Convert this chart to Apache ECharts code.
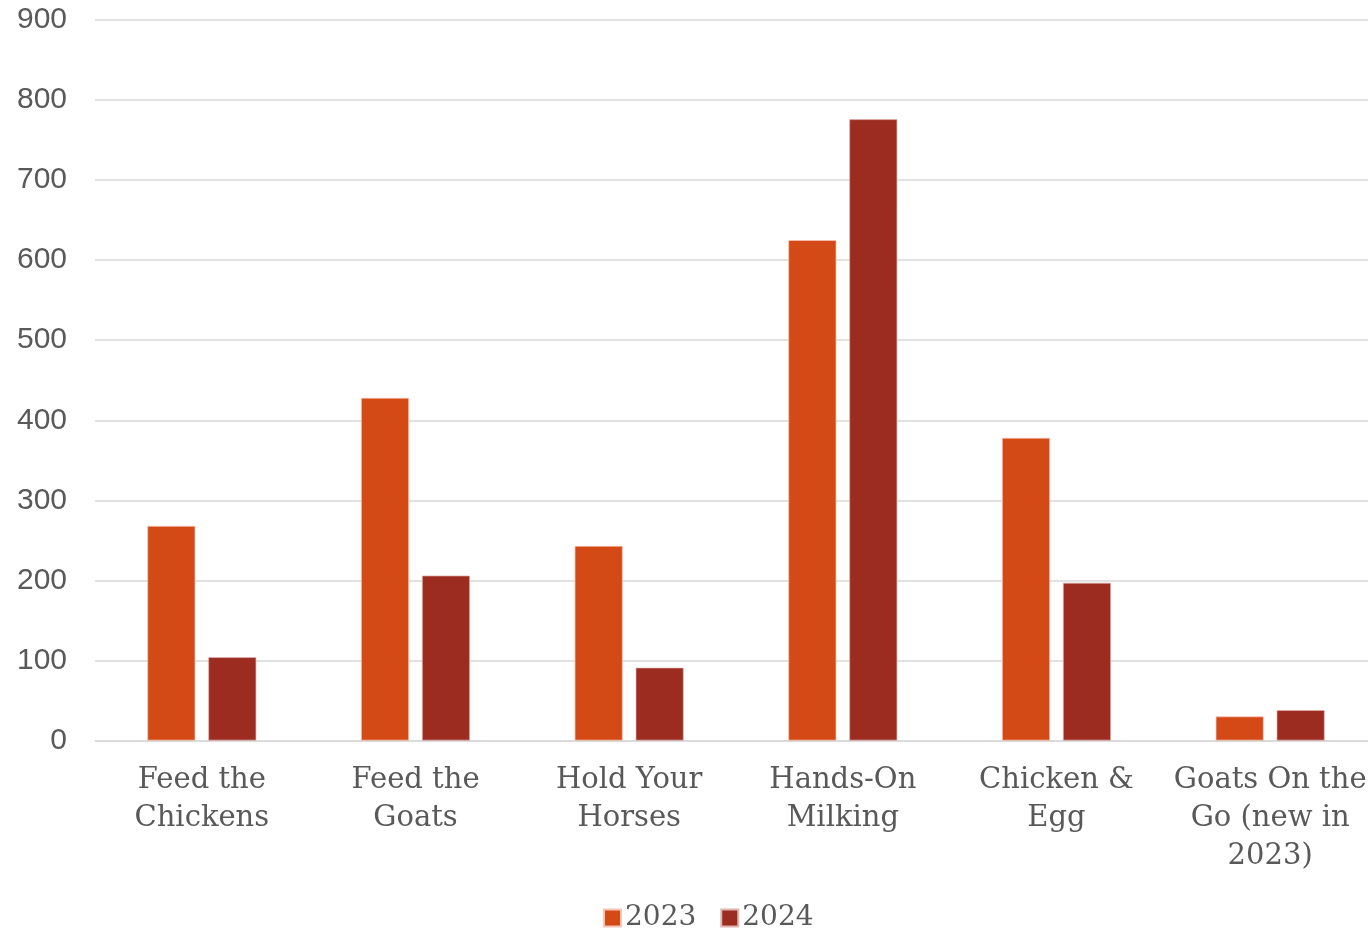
<!DOCTYPE html>
<html>
<head>
<meta charset="utf-8">
<script src="https://cdn.jsdelivr.net/npm/echarts@6/dist/echarts.min.js"></script>
<style>html,body{margin:0;padding:0;background:#fff;}#c{width:1368px;height:930px;}</style>
</head>
<body>
<div id="c"></div>
<script>
const categories = ['Feed the\nChickens', 'Feed the\nGoats', 'Hold Your\nHorses', 'Hands-On\nMilking', 'Chicken &\nEgg', 'Goats On the\nGo (new in\n2023)'];
const values2023 = [268, 428, 243, 625, 378, 30];
const values2024 = [104, 206, 91, 776, 197, 38];
const yTicks = { min: 0, max: 900, interval: 100 };

const chart = echarts.init(document.getElementById('c'));
chart.setOption({
  animation: false,
  backgroundColor: '#ffffff',
  grid: { left: 95, width: 1282, top: 20, height: 720.5, containLabel: false, outerBoundsMode: 'none' },
  legend: {
    top: 899, left: 598,
    itemWidth: 17, itemHeight: 17, itemGap: 24,
    icon: 'rect',
    textStyle: { fontFamily: 'DejaVu Serif', fontSize: 28, color: '#595959', padding: [0,0,0,-1] },
    data: ['2023', '2024']
  },
  xAxis: {
    type: 'category',
    data: categories,
    axisLine: { lineStyle: { color: '#d9d9d9', width: 1.5 } },
    axisTick: { show: false },
    axisLabel: { fontFamily: 'DejaVu Serif', fontSize: 29, color: '#595959', lineHeight: 38, margin: 21, interval: 0 }
  },
  yAxis: {
    type: 'value',
    min: yTicks.min, max: yTicks.max, interval: yTicks.interval,
    axisLine: { show: false },
    axisTick: { show: false },
    splitLine: { lineStyle: { color: '#d9d9d9', width: 1.5 } },
    axisLabel: { fontFamily: 'Liberation Sans', fontSize: 30, color: '#595959', margin: 28 }
  },
  series: [
    { name: '2023', type: 'bar', data: values2023, barWidth: 48, barGap: '27%',
      itemStyle: { color: '#D34A17', borderColor: '#f3c6b5', borderWidth: 0.7 } },
    { name: '2024', type: 'bar', data: values2024, barWidth: 48,
      itemStyle: { color: '#9C2B20', borderColor: '#e0b5b0', borderWidth: 0.7 } }
  ]
});
</script>
</body>
</html>
